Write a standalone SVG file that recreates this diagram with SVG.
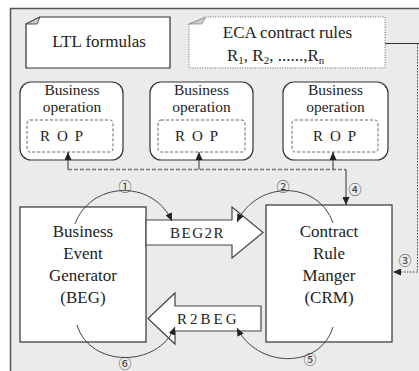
<svg xmlns="http://www.w3.org/2000/svg" width="419" height="371" viewBox="0 0 419 371">
  <style>
    text { font-family: 'Liberation Serif', 'DejaVu Serif', serif; fill: #222; }
    .t17 { font-size: 17px; text-anchor: middle; }
    .t16 { font-size: 15.5px; text-anchor: middle; }
    .code { font-size: 15px; }
    .box { fill: #fff; stroke: #333; stroke-width: 1.2; }
    .op { fill: #fff; stroke: #333; stroke-width: 1.2; }
    .rop { fill: #fff; stroke: #666; stroke-width: 1; stroke-dasharray: 3 2; }
    .block { fill: #fff; stroke: #444; stroke-width: 1.2; }
    .arc { fill: none; stroke: #444; stroke-width: 1; }
    text.num { font-family: 'Noto Sans CJK JP', 'DejaVu Sans', sans-serif; font-size: 13px; fill: #333; text-anchor: middle; }
  </style>
  <defs>
    <marker id="head" markerUnits="userSpaceOnUse" markerWidth="8" markerHeight="7" refX="8" refY="3.5" orient="auto">
      <path d="M0,0 L8,3.5 L0,7 z" fill="#222"/>
    </marker>
  </defs>

  <!-- frame -->
  <rect x="10.5" y="8.5" width="430" height="400" fill="#ebebeb" stroke="#555" stroke-width="1.5"/>

  <!-- input documents -->
  <g id="ltl">
    <path class="box" d="M26,24 L40,17 L170,17 L170,68 L26,68 Z"/>
    <path d="M26,24 L40,17 L37,24 Z" fill="#ccc" stroke="#333" stroke-width="0.8"/>
    <text class="t17" x="99" y="47">LTL formulas</text>
  </g>
  <g id="eca">
    <path d="M189,24 L206,17 L385,17 L385,68 L189,68 Z" fill="#fff" stroke="#666" stroke-width="1" stroke-dasharray="1 1.5"/>
    <path d="M189,24 L206,17 L202,24 Z" fill="#ccc" stroke="#777" stroke-width="0.6"/>
    <text class="t17" x="287.5" y="38">ECA contract rules</text>
    <text font-size="17" x="227" y="61">R<tspan font-size="11" dy="3">1</tspan><tspan dy="-3">, R</tspan><tspan font-size="11" dy="3">2</tspan><tspan dy="-3">, ......,R</tspan><tspan font-size="11" dy="3">n</tspan></text>
  </g>

  <!-- business operations -->
  <g id="op1">
    <rect class="op" x="20" y="82" width="103" height="78" rx="11"/>
    <text class="t16" x="72" y="95">Business</text>
    <text class="t16" x="72" y="112">operation</text>
    <rect class="rop" x="27" y="120" width="86" height="32" rx="3"/>
    <text class="code" x="40" y="141" letter-spacing="7">ROP</text>
  </g>
  <g id="op2">
    <rect class="op" x="150" y="82" width="103" height="78" rx="11"/>
    <text class="t16" x="201.5" y="95">Business</text>
    <text class="t16" x="201.5" y="112">operation</text>
    <rect class="rop" x="158" y="120" width="87" height="32" rx="3"/>
    <text class="code" x="175" y="141" letter-spacing="7">ROP</text>
  </g>
  <g id="op3">
    <rect class="op" x="283" y="82" width="105" height="78" rx="11"/>
    <text class="t16" x="335.5" y="95">Business</text>
    <text class="t16" x="335.5" y="112">operation</text>
    <rect class="rop" x="292" y="120" width="86" height="32" rx="3"/>
    <text class="code" x="313" y="141" letter-spacing="7">ROP</text>
  </g>

  <!-- generator and manager -->
  <g id="beg">
    <rect class="box" x="20" y="207" width="126" height="135"/>
    <text class="t17" x="83" y="237">Business</text>
    <text class="t17" x="83" y="259">Event</text>
    <text class="t17" x="83" y="281">Generator</text>
    <text class="t17" x="83" y="303">(BEG)</text>
  </g>
  <g id="crm">
    <rect class="box" x="266" y="205" width="126" height="137"/>
    <text class="t17" x="329" y="237">Contract</text>
    <text class="t17" x="329" y="259">Rule</text>
    <text class="t17" x="329" y="281">Manger</text>
    <text class="t17" x="329" y="303">(CRM)</text>
  </g>

  <!-- channels -->
  <g id="beg2r">
    <path class="block" d="M146,220 L232,220 L232,207 L263,232.5 L232,258 L232,245 L146,245 Z"/>
    <text class="code" x="170" y="238" letter-spacing="1.5">BEG2R</text>
  </g>
  <g id="r2beg">
    <path class="block" d="M261,306 L175,306 L175,293 L148,318.5 L175,344 L175,331 L261,331 Z"/>
    <text class="code" x="177" y="324" letter-spacing="3">R2BEG</text>
  </g>

  <!-- connectors -->
  <g id="connectors">
    <path d="M68,169.5 L346,169.5" fill="none" stroke="#777" stroke-width="1.3" stroke-dasharray="4 2"/>
    <path d="M68,169.5 L68,152" fill="none" stroke="#333" stroke-width="1" marker-end="url(#head)"/>
    <path d="M199,169.5 L199,152" fill="none" stroke="#333" stroke-width="1" marker-end="url(#head)"/>
    <path d="M333,169.5 L333,152" fill="none" stroke="#333" stroke-width="1" marker-end="url(#head)"/>
    <path d="M346,169.5 L346,205" fill="none" stroke="#333" stroke-width="1" marker-end="url(#head)"/>

    <path d="M385,43.5 L419,43.5" fill="none" stroke="#333" stroke-width="1"/>
    <path d="M417.5,44 L417.5,272 L393,272" fill="none" stroke="#444" stroke-width="1" stroke-dasharray="1.5 1.5" marker-end="url(#head)"/>

    <path class="arc" d="M75,224 C90,182 152,178 172,221" marker-end="url(#head)"/>
    <path class="arc" d="M333,223 C318,180 257,180 237,222" marker-end="url(#head)"/>
    <path class="arc" d="M333,327 C320,370 257,368 237,328" marker-end="url(#head)"/>
    <path class="arc" d="M77,325 C90,368 158,368 175,327" marker-end="url(#head)"/>

    <text class="num" x="125" y="191">①</text>
    <text class="num" x="283" y="191">②</text>
    <text class="num" x="405" y="265">③</text>
    <text class="num" x="355" y="194">④</text>
    <text class="num" x="310" y="364">⑤</text>
    <text class="num" x="125" y="368">⑥</text>
  </g>
</svg>
